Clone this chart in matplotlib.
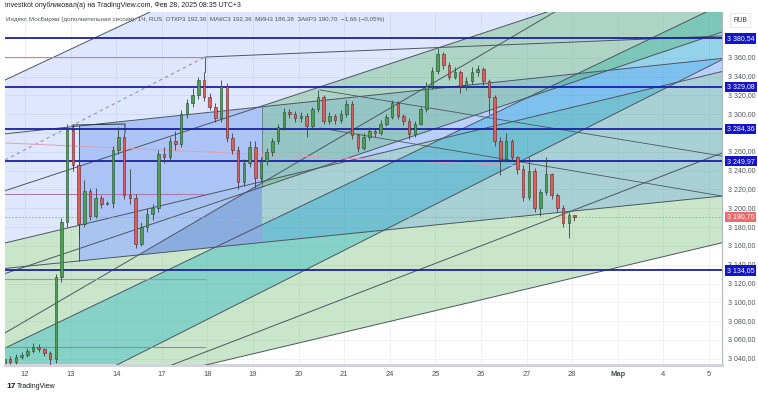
import matplotlib
matplotlib.use('Agg')
import matplotlib.pyplot as plt
import numpy as np

plt.rcParams['font.family'] = ['Liberation Sans', 'DejaVu Sans']

# ---------------- data ----------------
# hourly candles, MOEX index (extra session), x in trading-day units (0 = Feb 12)
first_open = 3036
closes = [3040, 3037, 3042, 3044, 3048, 3053, 3050, 3046, 3040, 3127,
          3185, 3283, 3246, 3183, 3218, 3192, 3211, 3205, 3206, 3262,
          3276, 3214, 3211, 3162, 3180, 3194, 3200, 3258, 3255, 3272,
          3268, 3300, 3312, 3320, 3336, 3318, 3308, 3296, 3330, 3275,
          3262, 3228, 3248, 3265, 3232, 3250, 3260, 3271, 3286, 3302,
          3300, 3296, 3298, 3287, 3305, 3318, 3293, 3298, 3294, 3300,
          3311, 3278, 3264, 3276, 3282, 3280, 3290, 3297, 3312, 3298,
          3293, 3279, 3290, 3305, 3330, 3346, 3364, 3352, 3340, 3345,
          3330, 3335, 3345, 3348, 3335, 3318, 3272, 3252, 3272, 3254,
          3242, 3212, 3240, 3200, 3217, 3236, 3214, 3200, 3184, 3192.36,
          3190.70]
highs = [3044, 3043, 3045, 3047, 3051, 3057, 3056, 3052, 3048, 3130,
         3190, 3290, 3288, 3250, 3230, 3222, 3222, 3214, 3208, 3266,
         3286, 3280, 3242, 3215, 3185, 3200, 3204, 3262, 3265, 3276,
         3282, 3304, 3316, 3328, 3340, 3345, 3322, 3312, 3336, 3333,
         3280, 3266, 3252, 3272, 3272, 3254, 3264, 3275, 3290, 3307,
         3306, 3303, 3302, 3301, 3308, 3326, 3320, 3302, 3300, 3304,
         3315, 3314, 3280, 3280, 3286, 3285, 3294, 3300, 3315, 3314,
         3300, 3296, 3293, 3308, 3334, 3350, 3370, 3366, 3355, 3350,
         3347, 3339, 3350, 3352, 3350, 3337, 3320, 3276, 3280, 3274,
         3256, 3246, 3254, 3243, 3220, 3254, 3238, 3216, 3203, 3196,
         3192.36]
lows = [3033, 3034, 3035, 3040, 3042, 3046, 3047, 3043, 3030, 3036,
        3122, 3180, 3240, 3168, 3180, 3188, 3190, 3200, 3203, 3200,
        3258, 3210, 3205, 3158, 3160, 3175, 3188, 3196, 3248, 3250,
        3262, 3265, 3296, 3308, 3316, 3314, 3304, 3292, 3292, 3270,
        3258, 3221, 3224, 3244, 3222, 3228, 3246, 3256, 3268, 3283,
        3296, 3292, 3292, 3276, 3284, 3302, 3290, 3290, 3290, 3291,
        3297, 3274, 3260, 3262, 3273, 3276, 3278, 3287, 3295, 3295,
        3289, 3274, 3276, 3288, 3302, 3327, 3343, 3348, 3336, 3337,
        3322, 3326, 3332, 3341, 3331, 3300, 3266, 3235, 3249, 3250,
        3236, 3208, 3209, 3196, 3192, 3214, 3210, 3196, 3180, 3168,
        3186.38]
bar_start = -0.45
bars_per_day = 8

day_labels = ['12', '13', '14', '17', '18', '19', '20', '21', '24', '25',
              '26', '27', '28', 'Мар', '4', '5']
price_ticks = list(range(3040, 3361, 20))
levels = [3380.54, 3329.08, 3284.36, 3249.97, 3134.05]
last_price = 3190.70

# user drawings, anchors as (day, price)
line_a = [(-0.4386, 3336.3), (2.7412, 3408.6)]
line_b = [(-0.4386, 3163.1), (5.1535, 3227.9)]
line_c = [(-0.4386, 3051.5), (4.2763, 3161.0)]
line_d = [(1.7982, 3028.1), (4.2763, 3088.7)]
line_f = [(8.2237, 3126.9), (12.61, 3208.8)]
line_g = [(8.2237, 3082.3), (14.8026, 3157.8)]
rect_top = [(1.1842, 3287.4), (15.2851, 3359.2)]
rect_bot = [(1.1842, 3144.0), (15.2851, 3213.0)]
line_h = [(2.5658, 3152.5), (11.5789, 3407.5)]
chan_top = [(5.1974, 3308.7), (11.4035, 3407.9)]
chan_bot = [(5.1974, 3222.6), (11.5132, 3325.7)]
desc_1 = [(6.469, 3325.7), (15.2851, 3255.5)]
desc_2 = [(6.469, 3285.3), (15.2851, 3213.0)]
line_m = [(3.9474, 3360.7), (15.2851, 3383.1)]
dash_line = [(-0.4386, 3251.3), (3.9474, 3360.7)]
pink_seg = [(-0.4386, 3360.7), (3.9474, 3360.7)]
pink_slope = [(-0.4386, 3269.4), (10.8553, 3245.0)]
purple_seg = [(-0.4386, 3215.2), (3.9474, 3215.2)]
gray_seg1 = [(-0.4386, 3124.8), (3.9474, 3124.8)]
gray_seg2 = [(-0.4386, 3052.6), (3.9474, 3052.6)]
bracket = [(1.0526, 3282.1), (1.0526, 3288.5), (2.1930, 3289.5), (2.1930, 3280.0)]

# ---------------- figure ----------------
fig = plt.figure(figsize=(7.58, 3.94), dpi=100)
ax = fig.add_axes([5 / 758, 29 / 394, 717 / 758, 353 / 394])
x_lo, x_hi = -0.4386, 15.2851
y_lo, y_hi = 3033.43, 3408.57
ax.set_xlim(x_lo, x_hi)
ax.set_ylim(y_lo, y_hi)

for d in range(len(day_labels)):
    ax.axvline(d, color='#eef1f6', lw=0.7, zorder=0)
for p in price_ticks:
    ax.axhline(p, color='#eef1f6', lw=0.7, zorder=0)


def at(line, x):
    (x0, y0), (x1, y1) = line
    return y0 + (y1 - y0) * (x - x0) / (x1 - x0)


def band(top, bot, x0, x1, **kw):
    xs = [x0, x1, x1, x0]
    ys = [at(top, x0), at(top, x1), at(bot, x1), at(bot, x0)]
    ax.fill(xs, ys, lw=0, **kw)


XL, XR = -1.0, 16.0
band(line_a, line_b, XL, XR, color='#2962ff', alpha=0.15, zorder=1)
band(line_b, line_g, XL, XR, color='#4caf50', alpha=0.30, zorder=1)
band(line_c, line_d, XL, XR, color='#00acc1', alpha=0.33, zorder=1)
band(rect_top, rect_bot, 5.1974, XR, color='#2979ff', alpha=0.20, zorder=1)
band(chan_top, chan_bot, 5.1974, XR, color='#4caf50', alpha=0.33, zorder=1)
band(rect_top, rect_bot, 1.1842, 5.1974, color='#a9c3f5', alpha=0.95, zorder=2)
# darker part of the rectangle under line h
xh = np.linspace(2.5658, 5.1974, 20)
ys_top = [at(line_h, x) for x in xh]
ys_bot = [at(rect_bot, x) for x in xh]
ax.fill(np.r_[xh, xh[::-1]], np.r_[ys_top, ys_bot[::-1]], color='#7fa3d6',
        alpha=0.7, lw=0, zorder=2)

for ln in [line_a, line_b, line_c, line_d, line_f, line_g, rect_top, rect_bot,
           line_h, chan_top, chan_bot]:
    ax.plot([XL, XR], [at(ln, XL), at(ln, XR)], color='#4d5560', lw=0.7, zorder=3)
for ln in [desc_1, desc_2]:
    ax.plot(*zip(*ln), color='#4d5560', lw=0.6, zorder=3)
ax.plot([rect_top[0][0]] * 2, [rect_top[0][1], rect_bot[0][1]], color='#4d5560', lw=0.7, zorder=3)
ax.plot([chan_top[0][0]] * 2, [chan_top[0][1], chan_bot[0][1]], color='#4d5560', lw=0.4, zorder=3)
ax.plot([line_m[0][0], line_m[1][0]], [line_m[0][1], line_m[1][1]], color='#4d5560', lw=0.7, zorder=3)
ax.plot([line_m[0][0]] * 2, [line_m[0][1], 3345], color='#4d5560', lw=0.7, zorder=3)
ax.plot(*zip(*dash_line), color='#9b8fb5', lw=0.8, ls=(0, (3, 3)), zorder=3)
ax.plot(*zip(*pink_seg), color='#e57a9a', lw=0.8, zorder=3)
ax.plot(*zip(*pink_slope), color='#e0a0b0', lw=0.7, zorder=3)
ax.plot(*zip(*purple_seg), color='#b07aa8', lw=0.8, zorder=3)
ax.plot(*zip(*gray_seg1), color='#9a98b0', lw=0.8, zorder=3)
ax.plot(*zip(*gray_seg2), color='#8090b8', lw=0.8, zorder=3)
ax.plot(*zip(*bracket), color='#333840', lw=0.7, zorder=3)

for lv in levels:
    ax.axhline(lv, color='#1b1fa8', lw=1.3, zorder=4)
ax.axhline(last_price, color='#f08080', lw=0.6, ls=(0, (2, 2)), zorder=4)

# candles
n = len(closes)
xs = bar_start + np.arange(n) / bars_per_day
opens = [first_open] + closes[:-1]
for x, o, h, l, c in zip(xs, opens, highs, lows, closes):
    up = c >= o
    ax.vlines(x, l, h, color='#3a3f46', lw=0.6, zorder=5)
    ax.bar(x, max(abs(c - o), 0.6), bottom=min(o, c), width=0.055,
           color='#4f9d57' if up else '#d9605c',
           edgecolor='#1d4d24' if up else '#6b1f1f', lw=0.4, zorder=6)

# axes cosmetics
for s in ['top', 'left']:
    ax.spines[s].set_visible(False)
ax.spines['right'].set_color('#b2b5be')
ax.spines['right'].set_linewidth(0.8)
ax.spines['bottom'].set_color('#d1d4dc')
ax.spines['bottom'].set_linewidth(2.2)
ax.set_xticks(range(len(day_labels)))
ax.set_xticklabels(day_labels)
ax.tick_params(axis='x', length=0, labelsize=5.4, labelcolor='#4a4e57', pad=4)
for t in ax.get_xticklabels():
    if t.get_text() == 'Мар':
        t.set_fontweight('bold')
ax.set_yticks([])

ytr = ax.get_yaxis_transform()


def fmt(p):
    s = f'{p:,.2f}'
    return s.replace(',', ' ').replace('.', ',')


boxed = levels + [last_price]
for p in price_ticks:
    if min(abs(p - b) for b in boxed) < 5.5:
        continue
    ax.text(1.009, p, fmt(p), transform=ytr, fontsize=5.0, color='#50535e',
            va='center', ha='left', clip_on=False)
for lv in levels:
    ax.text(1.007, lv, fmt(lv), transform=ytr, fontsize=5.0, color='white',
            va='center', ha='left', clip_on=False, zorder=10,
            bbox=dict(boxstyle='square,pad=0.25', fc='#1414c8', ec='none'))
ax.text(1.007, last_price, fmt(last_price), transform=ytr, fontsize=5.0, color='white',
        va='center', ha='left', clip_on=False, zorder=10,
        bbox=dict(boxstyle='square,pad=0.25', fc='#ef6b6b', ec='none'))
fig.text(740 / 758, 1 - 20 / 394, 'RUB', fontsize=4.8, color='#333', ha='center', va='center',
         bbox=dict(boxstyle='square,pad=0.5', fc='white', ec='#e0e3eb', lw=0.6))

fig.text(5 / 758, 1 - 5 / 394, 'investkot опубликовал(а) на TradingView.com, Фев 28, 2025 08:35 UTC+3',
         fontsize=5.0, color='#222', ha='left', va='center')
fig.text(6 / 758, 1 - 19 / 394,
         'Индекс МосБиржи (дополнительная сессия), 1Ч, RUS  ОТКР3 192,36  МАКС3 192,36  '
         'МИН3 186,38  ЗАКР3 190,70  −1,66 (−0,05%)',
         fontsize=4.5, color='#50535e', ha='left', va='center')
fig.text(6 / 758, 1 - 386 / 394, '17', fontsize=6, fontweight='bold', color='#131722',
         ha='left', va='center')
fig.text(17 / 758, 1 - 386 / 394, 'TradingView', fontsize=5, color='#131722',
         ha='left', va='center')

fig.savefig('out.png', dpi=100)
